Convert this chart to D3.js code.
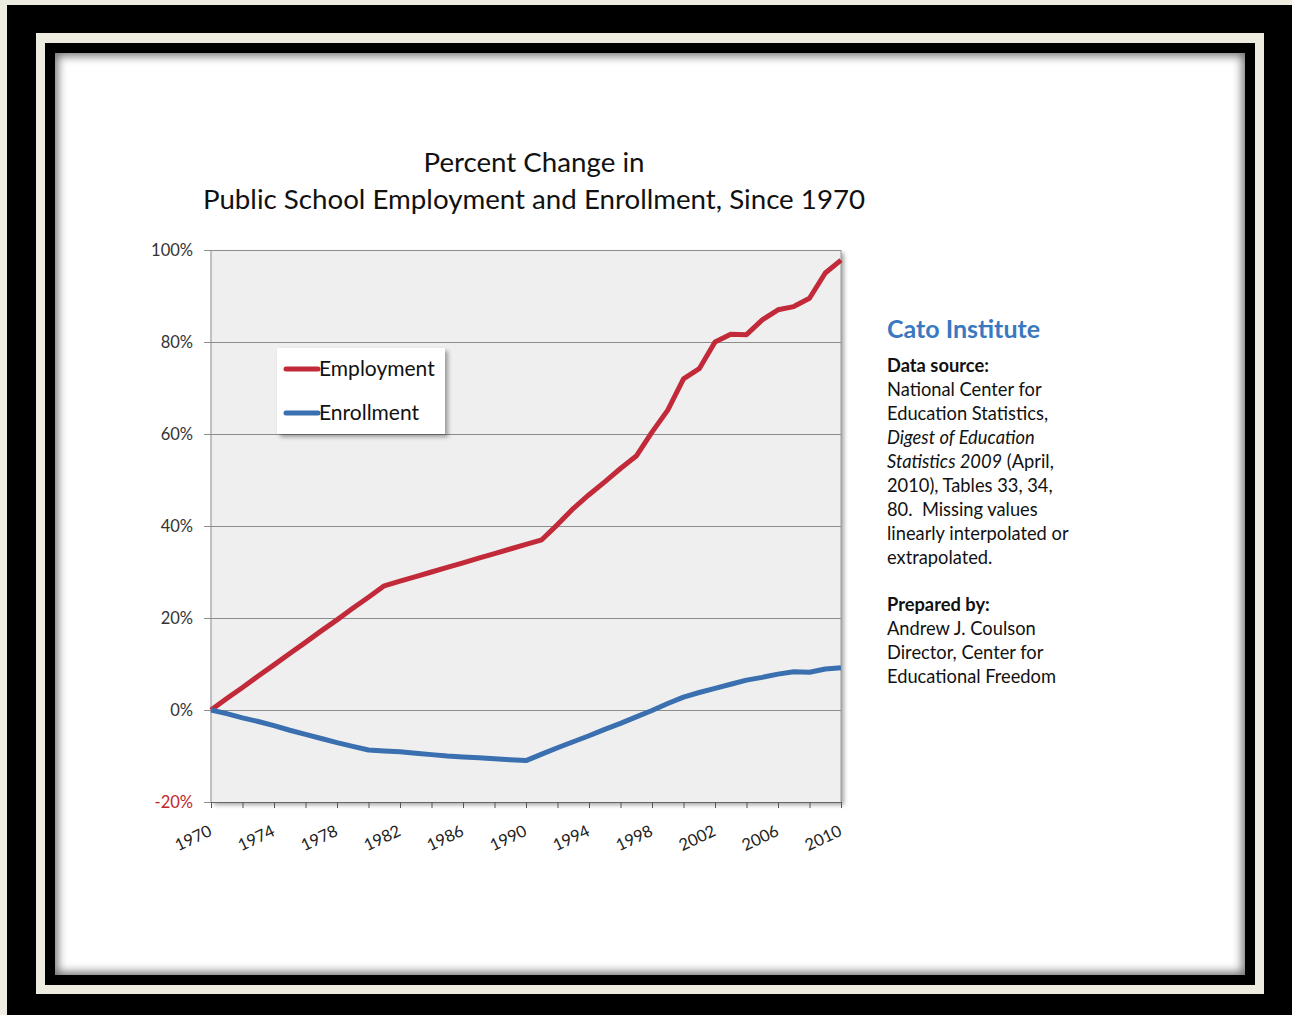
<!DOCTYPE html>
<html>
<head>
<meta charset="utf-8">
<script src="https://cdnjs.cloudflare.com/ajax/libs/d3/7.8.5/d3.min.js"></script>
<style>
  body { margin: 0; background: #eeebe0; width: 1292px; height: 1015px; overflow: hidden; position: relative; }
  .frame { position: absolute; }
  #f1 { left: 7px; top: 5px; width: 1285px; height: 1010px; background: #000; }
  #f2 { left: 36px; top: 33px; width: 1228px; height: 961px; background: #eeebe0; }
  #f3 { left: 45px; top: 43px; width: 1210px; height: 942px; background: #000; }
  #f4 { left: 55px; top: 53px; width: 1190px; height: 922px; background: #fff;
        box-shadow: inset 0 0 10px 3px rgba(0,0,0,0.55); }
  #chart { position: absolute; left: 0; top: 0; }
</style>
</head>
<body>
<div class="frame" id="f1"></div>
<div class="frame" id="f2"></div>
<div class="frame" id="f3"></div>
<div class="frame" id="f4"></div>
<svg id="chart" width="1292" height="1015"></svg>
<script>
const years = [1970, 1971, 1972, 1973, 1974, 1975, 1976, 1977, 1978, 1979,
  1980, 1981, 1982, 1983, 1984, 1985, 1986, 1987, 1988, 1989,
  1990, 1991, 1992, 1993, 1994, 1995, 1996, 1997, 1998, 1999,
  2000, 2001, 2002, 2003, 2004, 2005, 2006, 2007, 2008, 2009, 2010];

// percent change since 1970
const employment = [0, 2.5, 4.9, 7.4, 9.8, 12.3, 14.7, 17.2, 19.6, 22.1,
  24.5, 27.0, 28.0, 29.0, 30.0, 31.0, 32.0, 33.0, 34.0, 35.0,
  36.0, 37.0, 40.3, 43.8, 46.8, 49.6, 52.5, 55.2, 60.4, 65.2,
  72.0, 74.2, 80.0, 81.7, 81.6, 84.8, 87.0, 87.7, 89.5, 95.0, 97.8];

const enrollment = [0, -0.8, -1.7, -2.5, -3.4, -4.4, -5.3, -6.2, -7.1, -7.9,
  -8.7, -8.9, -9.1, -9.4, -9.7, -10.0, -10.2, -10.4, -10.6, -10.8,
  -11.0, -9.6, -8.2, -6.9, -5.6, -4.2, -2.9, -1.5, -0.1, 1.4,
  2.8, 3.8, 4.7, 5.6, 6.5, 7.1, 7.8, 8.3, 8.2, 8.9, 9.2];

const yTicks = [-20, 0, 20, 40, 60, 80, 100];
const xLabelYears = [1970, 1974, 1978, 1982, 1986, 1990, 1994, 1998, 2002, 2006, 2010];
const xTickYears = years.filter(y => y % 2 === 0);

const seriesNames = ["Employment", "Enrollment"];
const seriesColors = ["#c22a3a", "#3a6fb0"];

const titleLines = ["Percent Change in", "Public School Employment and Enrollment, Since 1970"];

const font = "Lato, 'Open Sans', sans-serif";
const plotLeft = 211, plotRight = 841, plotTop = 250, plotBottom = 802;

const svg = d3.select("#chart");

const defs = svg.append("defs");
const shadow = defs.append("filter").attr("id", "shadow")
  .attr("x", "-10%").attr("y", "-10%").attr("width", "130%").attr("height", "130%");
shadow.append("feDropShadow").attr("dx", 3).attr("dy", 3).attr("stdDeviation", 2)
  .attr("flood-color", "#000").attr("flood-opacity", 0.35);

const x = d3.scaleLinear().domain([1970, 2010]).range([plotLeft, plotRight]);
const y = d3.scaleLinear().domain([-20, 100]).range([plotBottom, plotTop]);

// title
svg.append("g").selectAll("text")
  .data(titleLines)
  .enter()
  .append("text")
  .attr("x", 534)
  .attr("y", (d, i) => 172 + i * 37)
  .attr("text-anchor", "middle")
  .style("font-family", font)
  .style("font-size", "27.7px")
  .attr("fill", "#111")
  .text(d => d);

// plot area
svg.append("rect")
  .attr("x", plotLeft).attr("y", plotTop)
  .attr("width", plotRight - plotLeft).attr("height", plotBottom - plotTop)
  .attr("fill", "#efefef")
  .attr("filter", "url(#shadow)");

svg.append("line")
  .attr("x1", plotRight).attr("x2", plotRight).attr("y1", plotTop).attr("y2", plotBottom)
  .attr("stroke", "#9a9a9a");

// y axis with gridlines
const yAxis = d3.axisLeft(y)
  .tickValues(yTicks)
  .tickSize(-(plotRight - plotLeft))
  .tickPadding(18)
  .tickFormat(d => d + "%");

const yg = svg.append("g")
  .attr("transform", `translate(${plotLeft},0)`)
  .call(yAxis);
yg.select(".domain").remove();
yg.selectAll(".tick line")
  .attr("x1", -7)
  .attr("stroke", "#8c8c8c");
yg.selectAll(".tick text")
  .style("font-family", font)
  .style("font-size", "16.5px")
  .attr("fill", d => d < 0 ? "#c0272d" : "#333");

svg.append("line")
  .attr("x1", plotLeft).attr("x2", plotLeft).attr("y1", plotTop).attr("y2", plotBottom)
  .attr("stroke", "#8c8c8c");

// x axis
const xAxis = d3.axisBottom(x)
  .tickValues(xTickYears)
  .tickSize(6)
  .tickSizeOuter(0)
  .tickFormat("");

const xg = svg.append("g")
  .attr("transform", `translate(0,${plotBottom})`)
  .call(xAxis);
xg.select(".domain").attr("stroke", "#666");
xg.selectAll(".tick line").attr("stroke", "#555");

svg.append("g").selectAll("text")
  .data(xLabelYears)
  .enter()
  .append("text")
  .attr("transform", d => `translate(${x(d) + 2},${835}) rotate(-25)`)
  .attr("text-anchor", "end")
  .style("font-family", font)
  .style("font-size", "16.5px")
  .attr("fill", "#222")
  .text(d => d);

// lines
const line = d3.line()
  .x((d, i) => x(years[i]))
  .y(d => y(d));

svg.append("path")
  .datum(employment)
  .attr("d", line)
  .attr("fill", "none")
  .attr("stroke", seriesColors[0])
  .attr("stroke-width", 5)
  .attr("stroke-linejoin", "round");

svg.append("path")
  .datum(enrollment)
  .attr("d", line)
  .attr("fill", "none")
  .attr("stroke", seriesColors[1])
  .attr("stroke-width", 5)
  .attr("stroke-linejoin", "round");

// legend
const legend = svg.append("g").attr("transform", "translate(277,348)");
legend.append("rect")
  .attr("width", 168).attr("height", 86)
  .attr("fill", "#fff")
  .attr("filter", "url(#shadow)");

legend.selectAll("line")
  .data(seriesNames)
  .enter()
  .append("line")
  .attr("x1", 9).attr("x2", 41)
  .attr("y1", (d, i) => 21 + i * 44)
  .attr("y2", (d, i) => 21 + i * 44)
  .attr("stroke", (d, i) => seriesColors[i])
  .attr("stroke-width", 5)
  .attr("stroke-linecap", "round");

legend.selectAll("text")
  .data(seriesNames)
  .enter()
  .append("text")
  .attr("x", 42)
  .attr("y", (d, i) => 28 + i * 44)
  .style("font-family", font)
  .style("font-size", "21px")
  .attr("fill", "#111")
  .text(d => d);

// side notes
const notes = svg.append("g").attr("transform", "translate(887,0)");
notes.append("text")
  .attr("y", 338)
  .style("font-family", font)
  .style("font-size", "25px")
  .style("font-weight", "bold")
  .attr("fill", "#3a78bf")
  .text("Cato Institute");

const noteLines = [
  [["Data source:", "bold"]],
  [["National Center for", ""]],
  [["Education Statistics,", ""]],
  [["Digest of Education", "italic"]],
  [["Statistics 2009", "italic"], [" (April,", ""]],
  [["2010), Tables 33, 34,", ""]],
  [["80.  Missing values", ""]],
  [["linearly interpolated or", ""]],
  [["extrapolated.", ""]],
  [],
  [["Prepared by:", "bold"]],
  [["Andrew J. Coulson", ""]],
  [["Director, Center for", ""]],
  [["Educational Freedom", ""]]
];

notes.selectAll("text.note")
  .data(noteLines)
  .enter()
  .append("text")
  .attr("class", "note")
  .attr("y", (d, i) => 372 + i * 24 + (i >= 10 ? -1 : 0))
  .style("font-family", font)
  .style("font-size", "18.3px")
  .attr("fill", "#111")
  .style("white-space", "pre")
  .selectAll("tspan")
  .data(d => d)
  .enter()
  .append("tspan")
  .style("font-weight", d => d[1] === "bold" ? "bold" : "normal")
  .style("font-style", d => d[1] === "italic" ? "italic" : "normal")
  .text(d => d[0]);
</script>
</body>
</html>
